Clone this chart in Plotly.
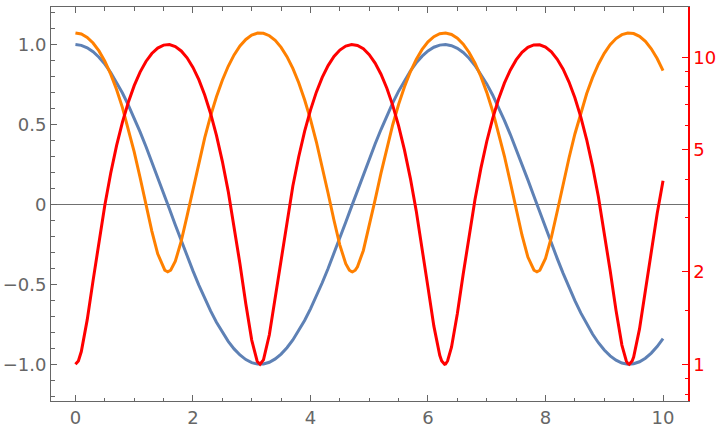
import plotly.graph_objects as go

x_vals = [round(i * 0.1, 1) for i in range(101)]

blue_cos = [1.0000, 0.9950, 0.9801, 0.9553, 0.9211, 0.8776, 0.8253, 0.7648, 0.6967, 0.6216,
            0.5403, 0.4536, 0.3624, 0.2675, 0.1700, 0.0707, -0.0292, -0.1288, -0.2272, -0.3233,
            -0.4161, -0.5048, -0.5885, -0.6663, -0.7374, -0.8011, -0.8569, -0.9041, -0.9422, -0.9710,
            -0.9900, -0.9991, -0.9983, -0.9875, -0.9668, -0.9365, -0.8968, -0.8481, -0.7910, -0.7259,
            -0.6536, -0.5748, -0.4903, -0.4008, -0.3073, -0.2108, -0.1122, -0.0124, 0.0875, 0.1865,
            0.2837, 0.3780, 0.4685, 0.5544, 0.6347, 0.7087, 0.7756, 0.8347, 0.8855, 0.9275,
            0.9602, 0.9833, 0.9965, 0.9999, 0.9932, 0.9766, 0.9502, 0.9144, 0.8694, 0.8157,
            0.7539, 0.6845, 0.6084, 0.5261, 0.4385, 0.3466, 0.2513, 0.1534, 0.0540, -0.0460,
            -0.1455, -0.2435, -0.3392, -0.4314, -0.5193, -0.6020, -0.6787, -0.7486, -0.8111, -0.8654,
            -0.9111, -0.9477, -0.9748, -0.9922, -0.9997, -0.9972, -0.9847, -0.9624, -0.9304, -0.8892,
            -0.8391]

orange_vals = [12.000, 11.900, 11.605, 11.127, 10.484, 9.702, 8.812, 7.849, 6.854, 5.864,
               4.919, 4.057, 3.313, 2.716, 2.289, 2.050, 2.009, 2.166, 2.516, 3.045,
               3.732, 4.548, 5.463, 6.440, 7.438, 8.418, 9.343, 10.174, 10.877, 11.428,
               11.801, 11.982, 11.966, 11.752, 11.347, 10.770, 10.043, 9.193, 8.257, 7.269,
               6.272, 5.304, 4.404, 3.606, 2.944, 2.444, 2.126, 2.002, 2.077, 2.348,
               2.805, 3.429, 4.195, 5.074, 6.028, 7.023, 8.016, 8.967, 9.841, 10.603,
               11.220, 11.669, 11.930, 11.998, 11.864, 11.537, 11.029, 10.361, 9.559, 8.654,
               7.684, 6.685, 5.702, 4.768, 3.923, 3.201, 2.632, 2.235, 2.029, 2.021,
               2.212, 2.593, 3.151, 3.861, 4.697, 5.624, 6.606, 7.604, 8.579, 9.489,
               10.301, 10.981, 11.502, 11.845, 11.994, 11.944, 11.696, 11.262, 10.656, 9.907,
               9.041]
# extra readings at the orange troughs
orange_extra_x = [1.5208, 1.5708, 1.6208, 4.6624, 4.7124, 4.7624, 7.8040, 7.8540, 7.9040]
orange_extra_v = [2.025, 2.000, 2.025, 2.025, 2.000, 2.025, 2.025, 2.000, 2.025]

red_vals = [1.000, 1.100, 1.395, 1.873, 2.516, 3.298, 4.188, 5.151, 6.146, 7.136,
            8.081, 8.943, 9.687, 10.284, 10.711, 10.950, 10.991, 10.834, 10.484, 9.955,
            9.268, 8.452, 7.537, 6.560, 5.562, 4.582, 3.657, 2.826, 2.123, 1.572,
            1.199, 1.018, 1.034, 1.248, 1.653, 2.230, 2.957, 3.807, 4.743, 5.731,
            6.728, 7.696, 8.596, 9.394, 10.056, 10.556, 10.874, 10.998, 10.923, 10.652,
            10.195, 9.571, 8.805, 7.926, 6.972, 5.977, 4.984, 4.033, 3.159, 2.397,
            1.780, 1.331, 1.070, 1.002, 1.136, 1.463, 1.971, 2.639, 3.441, 4.346,
            5.316, 6.315, 7.298, 8.232, 9.077, 9.799, 10.368, 10.765, 10.971, 10.979,
            10.788, 10.407, 9.849, 9.139, 8.303, 7.376, 6.394, 5.396, 4.421, 3.511,
            2.699, 2.019, 1.498, 1.155, 1.006, 1.056, 1.304, 1.738, 2.344, 3.093,
            3.959]
# extra readings around the sharp red troughs
red_extra_x = [0.05, 3.0916, 3.1416, 3.1916, 6.2332, 6.2832, 6.3332, 9.3748, 9.4248, 9.4748]
red_extra_v = [1.025, 1.025, 1.000, 1.025, 1.025, 1.000, 1.025, 1.025, 1.000, 1.025]

x_ticks = [0, 2, 4, 6, 8, 10]
y_ticks = [-1.0, -0.5, 0, 0.5, 1.0]
y_tick_text = ["\u22121.0", "\u22120.5", "0", "0.5", "1.0"]
y2_ticks = [1, 2, 5, 10]
y2_minor = [0.8, 0.9, 1.5, 3, 4, 6, 7, 8, 9]

GRAY = "#666666"
FONT = "DejaVu Sans"


def merged(xs, ys, ex, ey):
    pts = sorted(zip(list(xs) + list(ex), list(ys) + list(ey)))
    return [p[0] for p in pts], [p[1] for p in pts]


ox, oy = merged(x_vals, orange_vals, orange_extra_x, orange_extra_v)
rx, ry = merged(x_vals, red_vals, red_extra_x, red_extra_v)

fig = go.Figure()
fig.add_trace(go.Scatter(x=x_vals, y=blue_cos, mode="lines", yaxis="y",
                         line=dict(color="#5E81B5", width=3)))
fig.add_trace(go.Scatter(x=ox, y=oy, mode="lines", yaxis="y2",
                         line=dict(color="#FF8000", width=3)))
fig.add_trace(go.Scatter(x=rx, y=ry, mode="lines", yaxis="y2",
                         line=dict(color="#FF0000", width=3)))

fig.update_layout(
    width=720, height=432,
    margin=dict(l=51, r=32, t=7, b=31),
    paper_bgcolor="white", plot_bgcolor="white",
    showlegend=False,
    font=dict(family=FONT, size=18, color=GRAY),
    xaxis=dict(range=[-0.416, 10.425], tickmode="array", tickvals=x_ticks,
               ticks="inside", ticklen=6, tickcolor=GRAY, tickwidth=1,
               minor=dict(ticks="inside", dtick=0.5, tick0=0, ticklen=3.5, tickcolor=GRAY),
               showline=True, linecolor=GRAY, linewidth=1, mirror="ticks",
               showgrid=False, zeroline=False, automargin=False,
               tickfont=dict(family=FONT, size=18, color=GRAY)),
    yaxis=dict(range=[-1.230, 1.235], tickmode="array", tickvals=y_ticks, ticktext=y_tick_text,
               ticks="inside", ticklen=6, tickcolor=GRAY, tickwidth=1,
               minor=dict(ticks="inside", dtick=0.1, tick0=0, ticklen=3.5, tickcolor=GRAY),
               showline=True, linecolor=GRAY, linewidth=1,
               showgrid=False, zeroline=True, zerolinecolor="#707070", zerolinewidth=1,
               automargin=False,
               tickfont=dict(family=FONT, size=18, color=GRAY)),
    yaxis2=dict(type="log", overlaying="y", side="right", range=[-0.1196, 1.1636],
                tickmode="array", tickvals=y2_ticks, ticktext=[str(v) for v in y2_ticks],
                ticks="inside", ticklen=6, tickcolor="#FF0000", tickwidth=1,
                minor=dict(ticks="inside", tickmode="array", tickvals=y2_minor,
                           ticklen=3.5, tickcolor="#FF0000"),
                showline=True, linecolor="#FF0000", linewidth=1.5,
                showgrid=False, zeroline=False, automargin=False,
                tickfont=dict(family=FONT, size=18, color="#FF0000")),
)

fig.write_html("out.html", config={"displayModeBar": False},
               post_script="document.body.style.margin='0';document.body.style.padding='0';")
